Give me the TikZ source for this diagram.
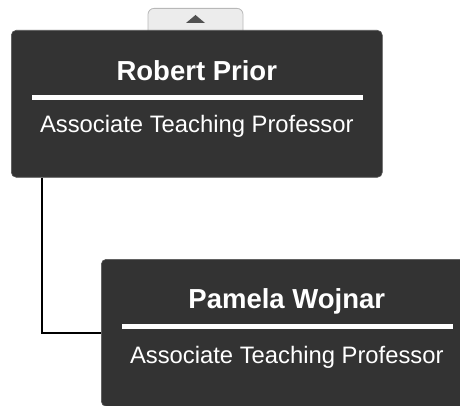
\documentclass[tikz,border=0pt]{standalone}
\usepackage{fontspec}
\setmainfont{Liberation Sans}
\usepackage{xcolor}
\usepackage{tikz}
\usetikzlibrary{positioning}

\definecolor{cardgray}{HTML}{333333}
\definecolor{cardedge}{HTML}{555555}
\definecolor{tabgray}{HTML}{ECECEC}
\definecolor{tabedge}{HTML}{B8B8B8}
\definecolor{arrowgray}{HTML}{505050}

\tikzset{
  card/.style={rectangle, rounded corners=5pt, fill=cardgray, draw=cardedge,
    line width=0.6pt, minimum width=371pt, minimum height=147pt,
    anchor=north west, inner sep=0pt},
  tab/.style={rectangle, rounded corners=6pt, fill=tabgray, draw=tabedge,
    line width=0.8pt, minimum width=95pt, minimum height=30pt,
    anchor=north, inner sep=0pt},
  nametext/.style={text=white, anchor=base, font=\bfseries\fontsize{27.5}{32}\selectfont},
  roletext/.style={text=white, anchor=base, font=\fontsize{23.8}{28}\selectfont},
  bar/.style={white, line width=5pt},
  link/.style={black, line width=1.7pt}
}

\begin{document}
\begin{tikzpicture}[x=1pt, y=-1pt]
    \clip (0,0) rectangle (460,406);

      % collapse tab
      \node[tab] (toggle) at (195.5,8) {};
      \fill[arrowgray] ([yshift=-7pt]toggle.north) -- ++(9.5,8) -- ++(-19,0) -- cycle;

      % cards
      \node[card] (rp) at (11,30) {};
      \node[card] (pw) at (101,259) {};

      % Robert Prior
      \node[nametext] (rpname) at ([yshift=-51pt]rp.north) {Robert Prior};
      \draw[bar] ([xshift=21pt,yshift=-67.5pt]rp.north west) -- ([xshift=-20pt,yshift=-67.5pt]rp.north east);
      \node[roletext] (rprole) at ([yshift=-103pt]rp.north) {Associate Teaching Professor};

      % Pamela Wojnar
      \node[nametext] (pwname) at ([yshift=-49pt]pw.north) {Pamela Wojnar};
      \draw[bar] ([xshift=21pt,yshift=-67.5pt]pw.north west) -- ([xshift=-20pt,yshift=-67.5pt]pw.north east);
      \node[roletext] (pwrole) at ([yshift=-104pt]pw.north) {Associate Teaching Professor};

      % reporting line
      \draw[link] ([xshift=31pt]rp.south west) |- (pw.west);
    \end{tikzpicture}
\end{document}
